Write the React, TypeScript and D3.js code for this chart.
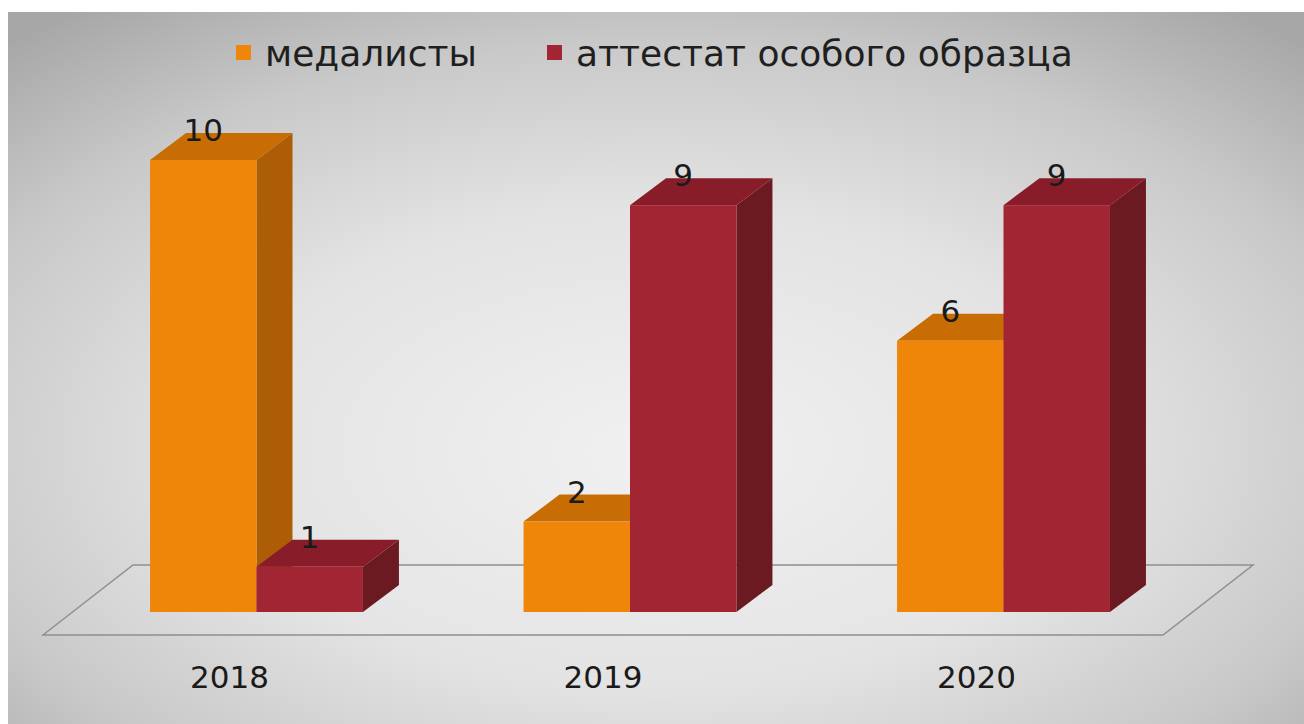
import React from "react";
import * as d3 from "d3";

const years = ["2018", "2019", "2020"];
const seriesNames = ["медалисты", "аттестат особого образца"];
const medalists = [10, 2, 6];
const specialCert = [1, 9, 9];
const seriesValues = [medalists, specialCert];

const W = 1304;
const H = 724;
const FONT = "'DejaVu Sans', Verdana, sans-serif";

const faceColors = [
  { front: "#ef860a", top: "#c86d03", side: "#ad5d05" },
  { front: "#a22534", top: "#881d29", side: "#6b1a22" },
];

const DX = 36;
const DY = -27;

export default function App() {
  const x0 = d3.scaleBand<string>().domain(years).range([38, 1222]).paddingInner(0.43).paddingOuter(0.3);
  const x1 = d3.scaleBand<string>().domain(seriesNames).range([0, x0.bandwidth()]).padding(0);
  const y = d3.scaleLinear().domain([0, 10]).range([612, 160]);

  const base = y(0);
  const floorFront = base + 23;
  const floorBack = base - 47;
  const floorLeft = x0.range()[0] + 5;
  const floorRight = x0.range()[1] - 59;
  const floorPts = [
    [floorLeft, floorFront],
    [floorLeft + 90, floorBack],
    [floorRight + 90, floorBack],
    [floorRight, floorFront],
  ];

  const bars: React.ReactNode[] = [];
  const labels: React.ReactNode[] = [];
  years.forEach((yr, i) => {
    seriesNames.forEach((s, j) => {
      const v = seriesValues[j][i];
      const x = (x0(yr) ?? 0) + (x1(s) ?? 0);
      const w = x1.bandwidth();
      const yt = y(v);
      const yb = base;
      const c = faceColors[j];
      bars.push(
        <g key={`${yr}-${s}`}>
          <polygon
            points={`${x + w},${yt} ${x + w + DX},${yt + DY} ${x + w + DX},${yb + DY} ${x + w},${yb}`}
            fill={c.side}
          />
          <polygon
            points={`${x},${yt} ${x + DX},${yt + DY} ${x + w + DX},${yt + DY} ${x + w},${yt}`}
            fill={c.top}
          />
          <rect x={x} y={yt} width={w} height={yb - yt} fill={c.front} />
        </g>
      );
      labels.push(
        <text
          key={`l-${yr}-${s}`}
          x={x + w / 2}
          y={yt + DY + 8}
          textAnchor="middle"
          fontFamily={FONT}
          fontSize={31}
          fill="#1a1a1a"
        >
          {v}
        </text>
      );
    });
  });

  const legendItems = [
    { sq: 236, tx: 265 },
    { sq: 547, tx: 576 },
  ];

  return (
    <svg width={W} height={H} style={{ display: "block", position: "absolute", left: 0, top: 0 }}>
      <defs>
        <radialGradient id="bg" cx="0.5" cy="0.6" r="0.75" fx="0.5" fy="0.62">
          <stop offset="0" stopColor="#f1f1f1" />
          <stop offset="0.45" stopColor="#e3e3e3" />
          <stop offset="0.75" stopColor="#c9c9c9" />
          <stop offset="1" stopColor="#a7a7a7" />
        </radialGradient>
      </defs>
      <rect x={0} y={0} width={W} height={H} fill="#ffffff" />
      <rect x={8} y={12} width={W - 8} height={H - 12} fill="url(#bg)" />
      <polygon
        points={floorPts.map((p) => p.join(",")).join(" ")}
        fill="rgba(255,255,255,0.08)"
        stroke="#8f8f8f"
        strokeWidth={1.5}
      />
      {bars}
      {labels}
      {years.map((yr) => (
        <text
          key={`x-${yr}`}
          x={(x0(yr) ?? 0) + x0.bandwidth() / 2 - 27}
          y={688}
          textAnchor="middle"
          fontFamily={FONT}
          fontSize={31}
          fill="#1a1a1a"
        >
          {yr}
        </text>
      ))}
      {seriesNames.map((s, j) => (
        <g key={`lg-${s}`}>
          <rect x={legendItems[j].sq} y={45} width={15} height={15} fill={faceColors[j].front} />
          <text x={legendItems[j].tx} y={66} fontFamily={FONT} fontSize={36} fill="#1f1f1f">
            {s}
          </text>
        </g>
      ))}
    </svg>
  );
}
